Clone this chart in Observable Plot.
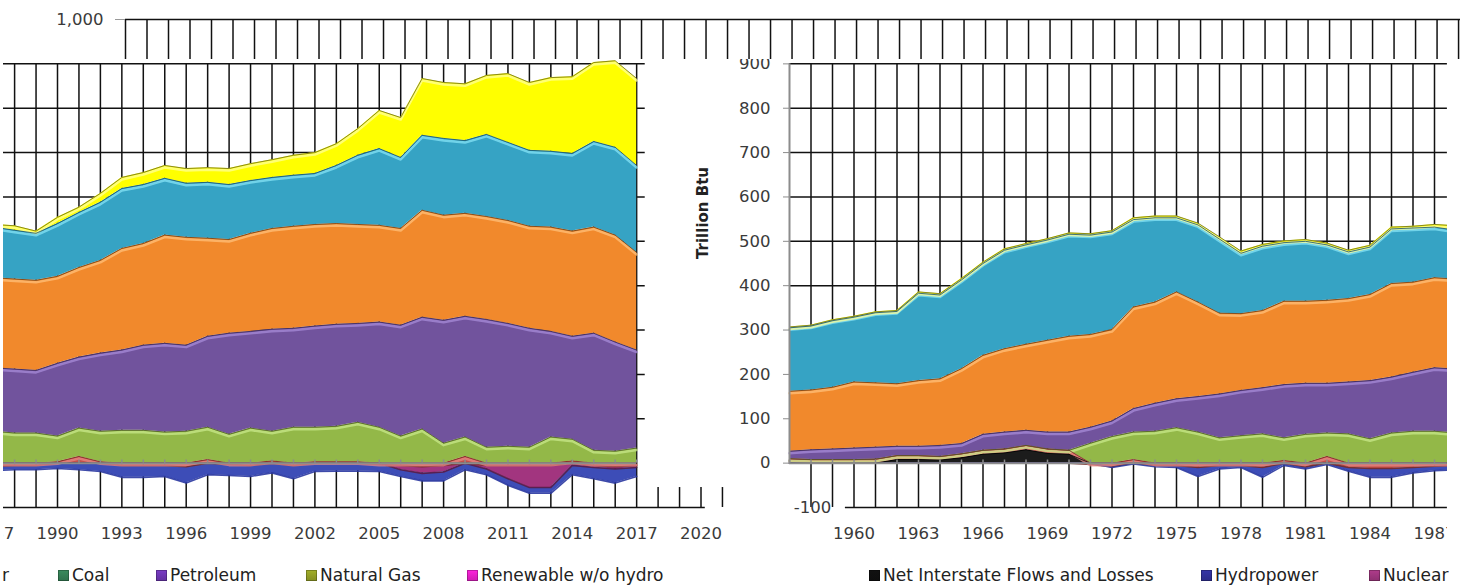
<!DOCTYPE html>
<html><head><meta charset="utf-8">
<script src="https://cdn.jsdelivr.net/npm/d3@7"></script>
<script src="https://cdn.jsdelivr.net/npm/@observablehq/plot@0.6"></script>
<style>
html,body{margin:0;padding:0;background:#fff;}
body{width:1460px;height:587px;position:relative;overflow:hidden;font-family:"DejaVu Sans",Verdana,sans-serif;}
.pane{position:absolute;top:0;height:587px;}
#topStrip{left:0;width:1460px;clip-path:inset(0 0 528px 0);}
#leftPane{left:0;width:740px;clip-path:inset(59px 0 0 3px);}
#rightPane{left:700px;width:760px;clip-path:inset(59px 13px 0 0);}
#ylabel{position:absolute;left:703px;top:213px;transform:translate(-50%,-50%) rotate(-90deg);font-weight:bold;font-size:15px;color:#222;white-space:nowrap;}
.item{position:absolute;top:566px;font-size:17px;color:#222;white-space:nowrap;line-height:18px;display:flex;align-items:center;}
.sw{width:11px;height:11px;margin-right:3px;display:inline-block;box-shadow:inset 0 0 0 1px rgba(0,0,0,0.25);}
</style></head><body>
<div id="topStrip" class="pane"></div>
<div id="leftPane" class="pane"></div>
<div id="rightPane" class="pane"></div>
<div id="ylabel">Trillion Btu</div>
<div id="legend"></div>
<script>
// ---------------- data (Trillion Btu) ----------------
const years = [1957,1958,1959,1960,1961,1962,1963,1964,1965,1966,1967,1968,1969,1970,
  1971,1972,1973,1974,1975,1976,1977,1978,1979,1980,1981,1982,1983,1984,1985,1986,1987,
  1988,1989,1990,1991,1992,1993,1994,1995,1996,1997,1998,1999,2000,2001,2002,2003,2004,2005,
  2006,2007,2008,2009,2010,2011,2012,2013,2014,2015,2016,2017];

const blackSeries = [0,0,0,0,0,8,8,7,12,20,23,30,22,20,
  0,0,0,0,0,0,0,0,0,0,0,0,0,0,0,0,0,
  0,0,0,0,0,0,0,0,0,0,0,0,0,0,0,0,0,0,
  0,0,0,0,0,0,0,0,0,0,0,0];
const redSeries = [10,8,8,8,9,9,9,8,9,9,9,10,10,9,
  -3,-8,8,-5,-5,-10,-5,-5,-10,6,-8,15,-10,-12,-12,-10,-7,
  -5,-5,3,15,3,-5,-5,-5,-8,8,-3,-5,5,-5,3,3,3,-3,
  -5,-8,-5,15,-5,-5,-5,-5,5,-5,-8,-5];
const greenSeries = [0,0,0,0,0,0,0,0,0,0,0,0,0,0,
  45,60,62,72,80,70,57,62,66,51,65,53,66,55,68,72,72,
  68,68,58,64,69,74,74,70,72,73,65,79,67,81,78,80,89,81,
  61,77,45,44,36,38,36,59,49,29,27,34];
const purpleSeries = [17,22,24,26,27,21,21,25,23,36,38,34,38,41,
  36,35,53,63,65,80,99,102,104,120,115,112,117,131,126,133,143,
  144,141,164,160,176,181,192,200,194,205,228,218,230,223,228,230,223,237,
  250,252,277,272,288,277,268,238,232,264,246,221];
const orangeSeries = [135,135,139,149,145,141,148,150,169,178,188,194,207,216,
  209,206,229,228,241,213,182,173,174,188,185,187,188,194,211,203,203,
  203,203,196,202,209,229,229,244,243,221,211,221,227,230,229,227,223,218,
  218,241,237,232,232,232,230,235,237,239,241,220];
const cyanSeries = [143,144,150,146,158,163,197,189,200,207,222,224,226,230,
  224,220,197,190,167,174,167,136,145,132,135,125,105,107,123,122,114,
  110,106,119,124,131,135,133,128,122,126,124,119,115,115,115,131,156,173,
  160,169,173,164,185,176,171,171,175,193,198,196];
const yellowSeries = [2,2,2,2,2,2,3,3,3,3,3,3,3,3,
  3,3,4,4,4,4,5,5,4,4,4,4,4,4,4,4,6,
  10,5,14,12,20,25,27,29,33,33,36,38,40,45,47,49,60,86,
  90,128,126,128,133,155,153,166,173,178,195,196];
const magentaSeries = [0,0,0,0,0,0,0,0,0,0,0,0,0,0,
  0,0,0,0,0,0,0,0,0,0,0,0,0,0,0,0,0,
  0,0,0,0,0,0,0,0,0,0,0,0,0,0,0,0,0,0,
  -10,-15,-15,0,-8,-30,-50,-50,-5,-5,-5,-5];
const blueSeries = [0,0,0,0,0,0,0,0,0,0,0,0,0,0,
  0,-2,-2,-3,-5,-20,-8,-5,-22,-5,-5,-3,-8,-20,-20,-12,-10,
  -10,-10,-12,-15,-19,-27,-27,-25,-37,-26,-25,-25,-22,-30,-19,-18,-18,-16,
  -15,-17,-20,-15,-13,-15,-13,-13,-21,-25,-32,-20];

const leftTickLabels = [1987,1990,1993,1996,1999,2002,2005,2008,2011,2014,2017,2020];
const rightTickLabels = [1960,1963,1966,1969,1972,1975,1978,1981,1984,1987];
const yTickValues = [0,100,200,300,400,500,600,700,800,900];
const leftExtraTickYears = [2018,2019,2020,2021];

const legendLabels = ["r","Coal","Petroleum","Natural Gas","Renewable w/o hydro",
  "Net Interstate Flows and Losses","Hydropower","Nuclear"];
const legendColors = [null,"#3a8c5e","#7a3cc6","#a3b02a","#ff22dd","#111111","#3535a8","#b03c8c"];

// ---------------- styles ----------------
const posOrder = ["black","red","green","purple","orange","cyan","yellow"];
const negOrder = ["red","magenta","blue"];
const seriesValues = {black:blackSeries, red:redSeries, green:greenSeries, purple:purpleSeries,
  orange:orangeSeries, cyan:cyanSeries, yellow:yellowSeries, magenta:magentaSeries, blue:blueSeries};
const fillOf = {black:"#1c1c1c", red:"#c4504a", green:"#93b848", purple:"#71539d",
  orange:"#f1892c", cyan:"#36a3c4", yellow:"#ffff00", magenta:"#a2357f", blue:"#3d4db7"};
const edgeOf = {black:"#000", red:"#7a2a26", green:"#4f5a2a", purple:"#3e2b55",
  orange:"#6b3f18", cyan:"#1f5566", yellow:"#6b6b20", magenta:"#5a1c46", blue:"#2a37a0"};
const glowOf = {black:"none", red:"#e88a84", green:"#c8e889", purple:"#a78bd8",
  orange:"#ffc07a", cyan:"#85e3f6", yellow:"#ffff9a", magenta:"none", blue:"none"};
const legendLeft = [2,58,156,306,467,869,1201,1369];

// positive parts stack upward from zero, negative parts downward
const longPos = [], longNeg = [];
for (const s of posOrder) years.forEach((yr, i) => longPos.push({year: yr, series: s,
  value: Math.max(0, seriesValues[s][i]), fill: fillOf[s], edge: edgeOf[s], glow: glowOf[s]}));
for (const s of negOrder) years.forEach((yr, i) => longNeg.push({year: yr, series: s,
  value: Math.min(0, seriesValues[s][i]), fill: fillOf[s], edge: edgeOf[s], glow: "none"}));

const FONT = "'DejaVu Sans', Verdana, sans-serif";
const TXT = "#3a3a3a";
const FS = 16.5;

function baseOpts(width, marginLeft, marginRight, xDomain) {
  return {width, height: 587, marginTop: 19, marginBottom: 80, marginLeft, marginRight,
    x: {domain: xDomain, axis: null}, y: {domain: [-100, 1000], axis: null},
    color: {type: "identity"},
    style: {fontFamily: FONT, overflow: "hidden", background: "transparent"}};
}
function dataMarks() {
  const sp = {x: "year", y: "value", z: "series", order: posOrder};
  const sn = {x: "year", y: "value", z: "series", order: negOrder};
  return [
    Plot.areaY(longPos, Plot.stackY({...sp, fill: "fill"})),
    Plot.areaY(longNeg, Plot.stackY({...sn, fill: "fill"})),
    Plot.lineY(longNeg, Plot.stackY2({...sn, stroke: "edge", strokeWidth: 1.6, strokeOpacity: 0.9})),
    Plot.lineY(longPos, Plot.stackY2({...sp, stroke: "glow", strokeWidth: 2.5, dy: 2, strokeOpacity: 0.75})),
    Plot.lineY(longPos, Plot.stackY2({...sp, stroke: "edge", strokeWidth: 1, strokeOpacity: 0.8}))
  ];
}

// ---------------- top strip (900 – 1,000 band) ----------------
const topGrid = d3.range(1957, 2020);
const topPlot = Plot.plot({
  ...baseOpts(1460, 125, 0, [1957, 2019.09]),
  marks: [
    Plot.ruleX(topGrid, {x: d => d, y1: 900, y2: 1000, stroke: "#111", strokeWidth: 1.5}),
    Plot.ruleY([1000], {x1: 1957, x2: 2019.09, stroke: "#111", strokeWidth: 1.5}),
    Plot.axisY({ticks: [1000], tickFormat: d3.format(","), anchor: "left", tickSize: 10,
      tickPadding: 12, fontSize: FS, fill: TXT, stroke: "#999", label: null})
  ]
});
document.getElementById("topStrip").appendChild(topPlot);

// ---------------- left pane (1988 – 2017) ----------------
const leftYears = years.filter(y => y >= 1988);
const leftPlot = Plot.plot({
  ...baseOpts(740, 57, 39.5, [1990, 2020]),
  marks: [
    Plot.ruleX(leftYears, {x: d => d, y1: -100, y2: 900, stroke: "#111", strokeWidth: 1.5}),
    Plot.ruleX(leftExtraTickYears, {x: d => d, y1: -100, y2: -55, stroke: "#111", strokeWidth: 1.5}),
    Plot.ruleY(yTickValues.filter(v => v > 0), {y: d => d, x1: 1987.3, x2: 2017.4, stroke: "#111", strokeWidth: 1.5}),
    Plot.ruleY([-100], {y: d => d, x1: 1987.3, x2: 2020.2, stroke: "#111", strokeWidth: 1.5}),
    ...dataMarks(),
    Plot.ruleY([0], {y: d => d, x1: 1987.3, x2: 2017, stroke: "#8c8c8c", strokeWidth: 2}),
    Plot.ruleX(leftYears, {x: d => d, y1: 0, y2: 7, stroke: "#8c8c8c", strokeWidth: 1.5}),
    Plot.text(leftTickLabels, {x: d => d, y: -100, dy: 26, text: d => String(d), fontSize: FS, fill: TXT})
  ]
});
document.getElementById("leftPane").appendChild(leftPlot);

// ---------------- right pane (1957 – 1987) ----------------
const rightYears = years.filter(y => y <= 1987);
const rightPlot = Plot.plot({
  ...baseOpts(760, 89, 13.1, [1957, 1987.6]),
  marks: [
    Plot.ruleX(rightYears.filter(y => y > 1957), {x: d => d, y1: -100, y2: 900, stroke: "#111", strokeWidth: 1.5}),
    Plot.ruleY(yTickValues.filter(v => v > 0), {y: d => d, x1: 1957, x2: 1987.6, stroke: "#111", strokeWidth: 1.5}),
    Plot.ruleY([-100], {y: d => d, x1: 1959.6, x2: 1987.6, stroke: "#111", strokeWidth: 1.5}),
    ...dataMarks(),
    Plot.ruleX([1957], {x: d => d, y1: 0, y2: 900, stroke: "#8c8c8c", strokeWidth: 2}),
    Plot.ruleY([0], {y: d => d, x1: 1957, x2: 1987.6, stroke: "#8c8c8c", strokeWidth: 2}),
    Plot.ruleX(rightYears, {x: d => d, y1: 0, y2: 7, stroke: "#8c8c8c", strokeWidth: 1.5}),
    Plot.axisY({ticks: yTickValues, anchor: "left", tickSize: 6, tickPadding: 13, fontSize: FS,
      fill: TXT, stroke: "#8c8c8c", label: null}),
    Plot.text([-100], {x: 1957, y: d => d, dx: 23, text: d => String(d), fontSize: FS, fill: TXT}),
    Plot.text(rightTickLabels, {x: d => d, y: -100, dy: 26, text: d => String(d), fontSize: FS, fill: TXT})
  ]
});
document.getElementById("rightPane").appendChild(rightPlot);

// ---------------- legend ----------------
const lg = document.getElementById("legend");
legendLabels.forEach((lab, i) => {
  const it = document.createElement("div");
  it.className = "item";
  it.style.left = legendLeft[i] + "px";
  if (legendColors[i]) {
    const sw = document.createElement("span");
    sw.className = "sw";
    sw.style.background = `linear-gradient(${legendColors[i]}, ${d3.color(legendColors[i]).darker(0.6)})`;
    it.appendChild(sw);
  }
  const t = document.createElement("span");
  t.textContent = lab;
  it.appendChild(t);
  lg.appendChild(it);
});
</script>
</body></html>
